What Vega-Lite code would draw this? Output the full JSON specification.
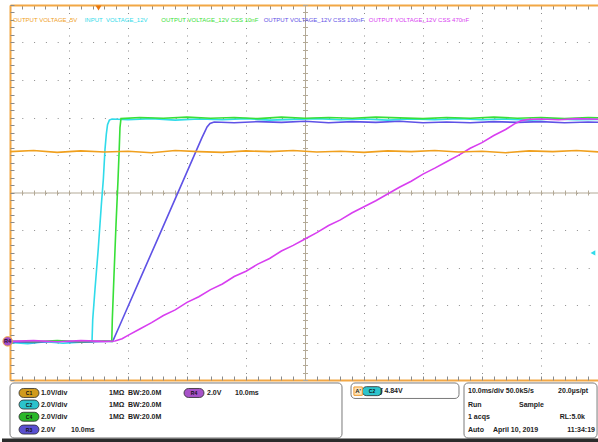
{
  "$schema": "https://vega.github.io/schema/vega-lite/v6.json",
  "background": "white",
  "padding": {"left": 0, "top": 4, "right": 0, "bottom": 0},
  "spacing": 2,
  "bounds": "flush",
  "resolve": {"scale": {"color": "independent"}},
  "config": {"view": {"stroke": null}},
  "datasets": {
    "tr": [
      {"s":"a","t":0,"v":1.0},{"s":"a","t":3,"v":0.97},{"s":"a","t":6,"v":1.02},{"s":"a","t":9,"v":0.98},{"s":"a","t":12,"v":1.01},{"s":"a","t":13.9,"v":1.02},
      {"s":"a","t":14.02,"v":1.61},{"s":"a","t":14.4,"v":2.41},{"s":"a","t":14.95,"v":3.48},{"s":"a","t":15.5,"v":4.71},{"s":"a","t":15.82,"v":5.35},{"s":"a","t":16.1,"v":6.15},{"s":"a","t":16.32,"v":6.55},{"s":"a","t":16.53,"v":6.81},{"s":"a","t":16.84,"v":6.93},{"s":"a","t":17.29,"v":6.96},
      {"s":"a","t":20,"v":6.94},{"s":"a","t":24,"v":6.97},{"s":"a","t":28,"v":6.93},{"s":"a","t":32,"v":6.96},{"s":"a","t":36,"v":6.94},{"s":"a","t":40,"v":6.97},{"s":"a","t":44,"v":6.93},{"s":"a","t":48,"v":6.95},{"s":"a","t":52,"v":6.97},{"s":"a","t":56,"v":6.94},{"s":"a","t":60,"v":6.96},{"s":"a","t":64,"v":6.93},{"s":"a","t":68,"v":6.96},{"s":"a","t":72,"v":6.94},{"s":"a","t":76,"v":6.97},{"s":"a","t":80,"v":6.94},{"s":"a","t":84,"v":6.96},{"s":"a","t":88,"v":6.93},{"s":"a","t":92,"v":6.96},{"s":"a","t":96,"v":6.94},{"s":"a","t":100,"v":6.95},
      {"s":"b","t":0,"v":1.02},{"s":"b","t":4,"v":1.0},{"s":"b","t":8,"v":1.04},{"s":"b","t":12,"v":1.01},{"s":"b","t":16,"v":1.03},{"s":"b","t":17.4,"v":1.03},
      {"s":"b","t":18.5,"v":1.42},{"s":"b","t":20,"v":1.96},{"s":"b","t":22.37,"v":2.81},{"s":"b","t":25,"v":3.75},{"s":"b","t":28,"v":4.83},{"s":"b","t":31,"v":5.91},{"s":"b","t":32.5,"v":6.45},{"s":"b","t":33.4,"v":6.75},{"s":"b","t":33.9,"v":6.84},{"s":"b","t":34.6,"v":6.88},
      {"s":"b","t":38,"v":6.86},{"s":"b","t":42,"v":6.89},{"s":"b","t":46,"v":6.87},{"s":"b","t":50,"v":6.90},{"s":"b","t":54,"v":6.86},{"s":"b","t":58,"v":6.89},{"s":"b","t":62,"v":6.87},{"s":"b","t":66,"v":6.90},{"s":"b","t":70,"v":6.86},{"s":"b","t":74,"v":6.88},{"s":"b","t":78,"v":6.86},{"s":"b","t":82,"v":6.89},{"s":"b","t":86,"v":6.87},{"s":"b","t":90,"v":6.89},{"s":"b","t":94,"v":6.86},{"s":"b","t":98,"v":6.88},{"s":"b","t":100,"v":6.87},
      {"s":"c","t":0,"v":1.04},{"s":"c","t":4,"v":1.02},{"s":"c","t":8,"v":1.05},{"s":"c","t":12,"v":1.02},{"s":"c","t":16,"v":1.04},{"s":"c","t":17.25,"v":1.03},
      {"s":"c","t":17.34,"v":1.61},{"s":"c","t":17.63,"v":2.81},{"s":"c","t":17.97,"v":4.15},{"s":"c","t":18.31,"v":5.35},{"s":"c","t":18.51,"v":6.15},{"s":"c","t":18.64,"v":6.73},{"s":"c","t":18.81,"v":6.97},
      {"s":"c","t":22,"v":7.00},{"s":"c","t":26,"v":6.98},{"s":"c","t":30,"v":7.01},{"s":"c","t":34,"v":6.98},{"s":"c","t":38,"v":7.00},{"s":"c","t":42,"v":6.97},{"s":"c","t":46,"v":7.01},{"s":"c","t":50,"v":6.98},{"s":"c","t":54,"v":7.00},{"s":"c","t":58,"v":6.98},{"s":"c","t":62,"v":7.01},{"s":"c","t":66,"v":6.99},{"s":"c","t":70,"v":6.97},{"s":"c","t":74,"v":7.00},{"s":"c","t":78,"v":6.98},{"s":"c","t":82,"v":7.01},{"s":"c","t":86,"v":6.98},{"s":"c","t":90,"v":7.00},{"s":"c","t":94,"v":6.97},{"s":"c","t":98,"v":7.00},{"s":"c","t":100,"v":6.99},
      {"s":"d","t":0,"v":1.03},{"s":"d","t":4,"v":1.05},{"s":"d","t":8,"v":1.02},{"s":"d","t":12,"v":1.05},{"s":"d","t":16,"v":1.03},{"s":"d","t":17.8,"v":1.04},
      {"s":"d","t":19,"v":1.10},{"s":"d","t":20,"v":1.19},{"s":"d","t":22,"v":1.36},{"s":"d","t":24,"v":1.53},{"s":"d","t":26,"v":1.72},{"s":"d","t":28,"v":1.87},{"s":"d","t":30,"v":2.07},{"s":"d","t":32,"v":2.22},{"s":"d","t":34,"v":2.41},{"s":"d","t":36,"v":2.56},{"s":"d","t":38,"v":2.76},{"s":"d","t":40,"v":2.90},{"s":"d","t":42,"v":3.09},{"s":"d","t":44,"v":3.24},{"s":"d","t":46,"v":3.44},{"s":"d","t":48,"v":3.59},{"s":"d","t":50,"v":3.76},{"s":"d","t":52,"v":3.93},{"s":"d","t":54,"v":4.12},{"s":"d","t":56,"v":4.27},{"s":"d","t":58,"v":4.46},{"s":"d","t":60,"v":4.62},{"s":"d","t":62,"v":4.78},{"s":"d","t":64,"v":4.96},{"s":"d","t":66,"v":5.14},{"s":"d","t":68,"v":5.30},{"s":"d","t":70,"v":5.49},{"s":"d","t":72,"v":5.65},{"s":"d","t":74,"v":5.82},{"s":"d","t":76,"v":5.99},{"s":"d","t":78,"v":6.18},{"s":"d","t":80,"v":6.33},{"s":"d","t":82,"v":6.52},{"s":"d","t":84,"v":6.68},{"s":"d","t":85.5,"v":6.83},{"s":"d","t":86.7,"v":6.92},{"s":"d","t":88,"v":6.95},{"s":"d","t":90,"v":6.96},{"s":"d","t":93,"v":6.94},{"s":"d","t":96,"v":6.97},{"s":"d","t":100,"v":6.95},
      {"s":"e","t":0,"v":6.09},{"s":"e","t":4,"v":6.12},{"s":"e","t":8,"v":6.07},{"s":"e","t":12,"v":6.11},{"s":"e","t":16,"v":6.08},{"s":"e","t":20,"v":6.10},{"s":"e","t":24,"v":6.06},{"s":"e","t":28,"v":6.12},{"s":"e","t":32,"v":6.09},{"s":"e","t":36,"v":6.07},{"s":"e","t":40,"v":6.11},{"s":"e","t":44,"v":6.09},{"s":"e","t":48,"v":6.12},{"s":"e","t":52,"v":6.08},{"s":"e","t":56,"v":6.10},{"s":"e","t":60,"v":6.07},{"s":"e","t":64,"v":6.11},{"s":"e","t":68,"v":6.09},{"s":"e","t":72,"v":6.12},{"s":"e","t":76,"v":6.08},{"s":"e","t":80,"v":6.10},{"s":"e","t":84,"v":6.06},{"s":"e","t":88,"v":6.11},{"s":"e","t":92,"v":6.09},{"s":"e","t":96,"v":6.12},{"s":"e","t":100,"v":6.08}
    ],
    "labels": [
      {"s":"e","label":"OUTPUT VOLTAGE_5V","lx":0.5,"ly":9.61},
      {"s":"a","label":"INPUT\u00a0 VOLTAGE_12V","lx":12.66,"ly":9.61},
      {"s":"c","label":"OUTPUT VOLTAGE_12V CSS 10nF","lx":25.65,"ly":9.61},
      {"s":"b","label":"OUTPUT VOLTAGE_12V CSS 100nF","lx":43.0,"ly":9.61},
      {"s":"d","label":"OUTPUT VOLTAGE_12V CSS 470nF","lx":60.8,"ly":9.61}
    ],
    "ref": [{"name":"R4","t":-0.4,"v":1.03}],
    "trigpos": [{"t":15.0,"v":9.92}],
    "triglev": [{"t":98.8,"v":3.39}],
    "boxes": [
      {"x1":0,"x2":56.27,"y1":0.18,"y2":4.69},
      {"x1":57.8,"x2":76.1,"y1":0.18,"y2":1.45},
      {"x1":76.95,"x2":99.5,"y1":0.18,"y2":4.69}
    ],
    "strip": [{"x1":-1.356,"x2":100,"y1":4.74,"y2":5.02}],
    "pills": [
      {"ch":"C1","px":3.22,"ln":1.0},
      {"ch":"C2","px":3.22,"ln":1.95},
      {"ch":"C4","px":3.22,"ln":2.95},
      {"ch":"R3","px":3.22,"ln":4.0},
      {"ch":"R4","px":31.19,"ln":1.0},
      {"ch":"C2","px":61.36,"ln":0.85}
    ],
    "amark": [{"lab":"A'","px":59.0,"ln":0.85}],
    "ptext": [
      {"px":5.25,"ln":1.0,"s":"1.0V/div"},{"px":16.78,"ln":1.0,"s":"1MΩ"},{"px":20.0,"ln":1.0,"s":"BW:20.0M"},{"px":33.39,"ln":1.0,"s":"2.0V"},{"px":38.14,"ln":1.0,"s":"10.0ms"},
      {"px":5.25,"ln":1.95,"s":"2.0V/div"},{"px":16.78,"ln":1.95,"s":"1MΩ"},{"px":20.0,"ln":1.95,"s":"BW:20.0M"},
      {"px":5.25,"ln":2.95,"s":"2.0V/div"},{"px":16.78,"ln":2.95,"s":"1MΩ"},{"px":20.0,"ln":2.95,"s":"BW:20.0M"},
      {"px":5.25,"ln":4.0,"s":"2.0V"},{"px":10.34,"ln":4.0,"s":"10.0ms"},
      {"px":62.8,"ln":0.85,"s":"∫ 4.84V"},
      {"px":77.63,"ln":0.85,"s":"10.0ms/div 50.0kS/s"},
      {"px":77.63,"ln":1.95,"s":"Run"},{"px":86.27,"ln":1.95,"s":"Sample"},
      {"px":77.63,"ln":2.95,"s":"1 acqs"},
      {"px":77.63,"ln":4.0,"s":"Auto"},{"px":81.86,"ln":4.0,"s":"April 10, 2019"}
    ],
    "ptextr": [
      {"px":98.0,"ln":0.85,"s":"20.0µs/pt"},
      {"px":97.46,"ln":2.95,"s":"RL:5.0k"},
      {"px":99.15,"ln":4.0,"s":"11:34:19"}
    ]
  },
  "vconcat": [
    {
      "width": 590,
      "height": 375,
      "resolve": {"axis": {"x": "independent", "y": "independent"}},
      "layer": [
        {
          "data": {"name": "tr"},
          "mark": {"type": "line", "strokeWidth": 1.6, "clip": true},
          "encoding": {
            "x": {"field": "t", "type": "quantitative", "scale": {"domain": [0, 100], "nice": false, "zero": false},
              "axis": {"orient": "bottom", "values": [10,20,30,40,50,60,70,80,90], "grid": true, "gridColor": "#8c8c8c", "gridDash": [1, 6.5], "gridWidth": 1, "ticks": false, "labels": false, "title": null, "domain": true, "domainColor": "#f2a745", "domainWidth": 2}},
            "y": {"field": "v", "type": "quantitative", "scale": {"domain": [0, 10], "nice": false, "zero": false},
              "axis": {"orient": "left", "values": [1,2,3,4,5,6,7,8,9], "grid": true, "gridColor": "#8c8c8c", "gridDash": [1, 10.8], "gridWidth": 1, "ticks": false, "labels": false, "title": null, "domain": true, "domainColor": "#f2a745", "domainWidth": 2}},
            "color": {"field": "s", "type": "nominal", "scale": {"domain": ["a","b","c","d","e"], "range": ["#30dbea","#5f52e6","#38e038","#d83ef0","#f0a01e"]}, "legend": null}
          }
        },
        {
          "data": {"name": "labels"},
          "mark": {"type": "text", "align": "left", "baseline": "middle", "font": "Liberation Sans", "fontSize": 6},
          "encoding": {
            "x": {"field": "lx", "type": "quantitative",
              "axis": {"orient": "top", "offset": -375, "values": [0,2,4,6,8,10,12,14,16,18,20,22,24,26,28,30,32,34,36,38,40,42,44,46,48,50,52,54,56,58,60,62,64,66,68,70,72,74,76,78,80,82,84,86,88,90,92,94,96,98,100], "grid": false, "ticks": true, "tickSize": 4, "tickColor": "#8a8a8a", "tickWidth": 1, "labels": false, "domain": false, "title": null}},
            "y": {"field": "ly", "type": "quantitative",
              "axis": {"orient": "right", "offset": -590, "values": [0,0.2,0.4,0.6,0.8,1,1.2,1.4,1.6,1.8,2,2.2,2.4,2.6,2.8,3,3.2,3.4,3.6,3.8,4,4.2,4.4,4.6,4.8,5,5.2,5.4,5.6,5.8,6,6.2,6.4,6.6,6.8,7,7.2,7.4,7.6,7.8,8,8.2,8.4,8.6,8.8,9,9.2,9.4,9.6,9.8,10], "grid": false, "ticks": true, "tickSize": 4, "tickColor": "#8a8a8a", "tickWidth": 1, "labels": false, "domain": false, "title": null}},
            "text": {"field": "label"},
            "color": {"field": "s", "type": "nominal", "legend": null}
          }
        },
        {
          "data": {"name": "ref"},
          "mark": {"type": "point", "shape": "circle", "filled": true, "fill": "#a54fc9", "stroke": "#f0a742", "strokeWidth": 1, "size": 90, "opacity": 1, "clip": false},
          "encoding": {
            "x": {"field": "t", "type": "quantitative",
              "axis": {"orient": "bottom", "offset": -375, "values": [0,2,4,6,8,10,12,14,16,18,20,22,24,26,28,30,32,34,36,38,40,42,44,46,48,50,52,54,56,58,60,62,64,66,68,70,72,74,76,78,80,82,84,86,88,90,92,94,96,98,100], "grid": false, "ticks": true, "tickSize": 4, "tickColor": "#8a8a8a", "tickWidth": 1, "labels": false, "domain": true, "domainColor": "#f2a745", "domainWidth": 2, "title": null}},
            "y": {"field": "v", "type": "quantitative",
              "axis": {"orient": "right", "offset": -295, "values": [0,0.2,0.4,0.6,0.8,1,1.2,1.4,1.6,1.8,2,2.2,2.4,2.6,2.8,3,3.2,3.4,3.6,3.8,4,4.2,4.4,4.6,4.8,5,5.2,5.4,5.6,5.8,6,6.2,6.4,6.6,6.8,7,7.2,7.4,7.6,7.8,8,8.2,8.4,8.6,8.8,9,9.2,9.4,9.6,9.8,10], "grid": false, "ticks": true, "tickSize": 2.5, "tickColor": "#b3a996", "tickWidth": 1, "labels": false, "domain": true, "domainColor": "#b3a996", "domainWidth": 1, "title": null}}
          }
        },
        {
          "data": {"name": "ref"},
          "mark": {"type": "text", "align": "center", "baseline": "middle", "font": "Liberation Sans", "fontWeight": "bold", "fontSize": 5.5, "fill": "#2a1030", "clip": false},
          "encoding": {
            "x": {"field": "t", "type": "quantitative",
              "axis": {"orient": "bottom", "offset": -187.5, "values": [0,2,4,6,8,10,12,14,16,18,20,22,24,26,28,30,32,34,36,38,40,42,44,46,48,50,52,54,56,58,60,62,64,66,68,70,72,74,76,78,80,82,84,86,88,90,92,94,96,98,100], "grid": false, "ticks": true, "tickSize": 2.5, "tickColor": "#b3a996", "tickWidth": 1, "labels": false, "domain": true, "domainColor": "#b3a996", "domainWidth": 1, "title": null}},
            "y": {"field": "v", "type": "quantitative",
              "axis": {"orient": "left", "offset": -295, "values": [0,0.2,0.4,0.6,0.8,1,1.2,1.4,1.6,1.8,2,2.2,2.4,2.6,2.8,3,3.2,3.4,3.6,3.8,4,4.2,4.4,4.6,4.8,5,5.2,5.4,5.6,5.8,6,6.2,6.4,6.6,6.8,7,7.2,7.4,7.6,7.8,8,8.2,8.4,8.6,8.8,9,9.2,9.4,9.6,9.8,10], "grid": false, "ticks": true, "tickSize": 2.5, "tickColor": "#b3a996", "tickWidth": 1, "labels": false, "domain": false, "title": null}},
            "text": {"field": "name"}
          }
        },
        {
          "data": {"name": "trigpos"},
          "mark": {"type": "point", "shape": "triangle-down", "filled": true, "color": "#e8770f", "size": 36, "opacity": 1},
          "encoding": {
            "x": {"field": "t", "type": "quantitative",
              "axis": {"orient": "top", "offset": -187.5, "values": [0,2,4,6,8,10,12,14,16,18,20,22,24,26,28,30,32,34,36,38,40,42,44,46,48,50,52,54,56,58,60,62,64,66,68,70,72,74,76,78,80,82,84,86,88,90,92,94,96,98,100], "grid": false, "ticks": true, "tickSize": 2.5, "tickColor": "#b3a996", "tickWidth": 1, "labels": false, "domain": false, "title": null}},
            "y": {"field": "v", "type": "quantitative", "axis": null}
          }
        },
        {
          "data": {"name": "triglev"},
          "mark": {"type": "point", "shape": "triangle-left", "filled": true, "color": "#30dbea", "size": 30, "opacity": 1},
          "encoding": {
            "x": {"field": "t", "type": "quantitative", "axis": null},
            "y": {"field": "v", "type": "quantitative", "axis": null}
          }
        }
      ]
    },
    {
      "width": 590,
      "height": 60,
      "layer": [
        {
          "data": {"name": "boxes"},
          "mark": {"type": "rect", "fill": "white", "stroke": "#7a7a7a", "strokeWidth": 1, "cornerRadius": 4},
          "encoding": {
            "x": {"field": "x1", "type": "quantitative", "scale": {"domain": [0, 100], "nice": false, "zero": false}, "axis": null},
            "x2": {"field": "x2"},
            "y": {"field": "y1", "type": "quantitative", "scale": {"domain": [0.1, 5.02], "nice": false, "zero": false, "reverse": true}, "axis": null},
            "y2": {"field": "y2"}
          }
        },
        {
          "data": {"name": "strip"},
          "mark": {"type": "rect", "fill": "#2b2b2b", "clip": false},
          "encoding": {
            "x": {"field": "x1", "type": "quantitative", "axis": null},
            "x2": {"field": "x2"},
            "y": {"field": "y1", "type": "quantitative", "axis": null},
            "y2": {"field": "y2"}
          }
        },
        {
          "data": {"name": "pills"},
          "mark": {"type": "point", "shape": "M-0.61,-0.5L0.61,-0.5A0.5,0.5,0,0,1,0.61,0.5L-0.61,0.5A0.5,0.5,0,0,1,-0.61,-0.5Z", "filled": true, "size": 324, "stroke": "#2a2a2a", "strokeWidth": 0.8, "opacity": 1},
          "encoding": {
            "x": {"field": "px", "type": "quantitative", "axis": null},
            "y": {"field": "ln", "type": "quantitative", "axis": null},
            "color": {"field": "ch", "type": "nominal", "scale": {"domain": ["C1","C2","C4","R3","R4"], "range": ["#d09a1c","#2cc3cc","#2ab82a","#5a4fd0","#a752c8"]}, "legend": null}
          }
        },
        {
          "data": {"name": "pills"},
          "mark": {"type": "text", "align": "center", "baseline": "middle", "font": "Liberation Sans", "fontWeight": "bold", "fontSize": 5, "fill": "#111111"},
          "encoding": {
            "x": {"field": "px", "type": "quantitative", "axis": null},
            "y": {"field": "ln", "type": "quantitative", "axis": null},
            "text": {"field": "ch"}
          }
        },
        {
          "data": {"name": "amark"},
          "mark": {"type": "point", "shape": "square", "filled": true, "fill": "#fde3b8", "stroke": "#ee9a2e", "strokeWidth": 1, "size": 70, "opacity": 1},
          "encoding": {
            "x": {"field": "px", "type": "quantitative", "axis": null},
            "y": {"field": "ln", "type": "quantitative", "axis": null}
          }
        },
        {
          "data": {"name": "amark"},
          "mark": {"type": "text", "align": "center", "baseline": "middle", "font": "Liberation Sans", "fontWeight": "bold", "fontSize": 6, "fill": "#222222"},
          "encoding": {
            "x": {"field": "px", "type": "quantitative", "axis": null},
            "y": {"field": "ln", "type": "quantitative", "axis": null},
            "text": {"field": "lab"}
          }
        },
        {
          "data": {"name": "ptext"},
          "mark": {"type": "text", "align": "left", "baseline": "middle", "font": "Liberation Sans", "fontWeight": "bold", "fontSize": 7, "fill": "#1c1c1c"},
          "encoding": {
            "x": {"field": "px", "type": "quantitative", "axis": null},
            "y": {"field": "ln", "type": "quantitative", "axis": null},
            "text": {"field": "s"}
          }
        },
        {
          "data": {"name": "ptextr"},
          "mark": {"type": "text", "align": "right", "baseline": "middle", "font": "Liberation Sans", "fontWeight": "bold", "fontSize": 7, "fill": "#1c1c1c"},
          "encoding": {
            "x": {"field": "px", "type": "quantitative", "axis": null},
            "y": {"field": "ln", "type": "quantitative", "axis": null},
            "text": {"field": "s"}
          }
        }
      ]
    }
  ]
}
